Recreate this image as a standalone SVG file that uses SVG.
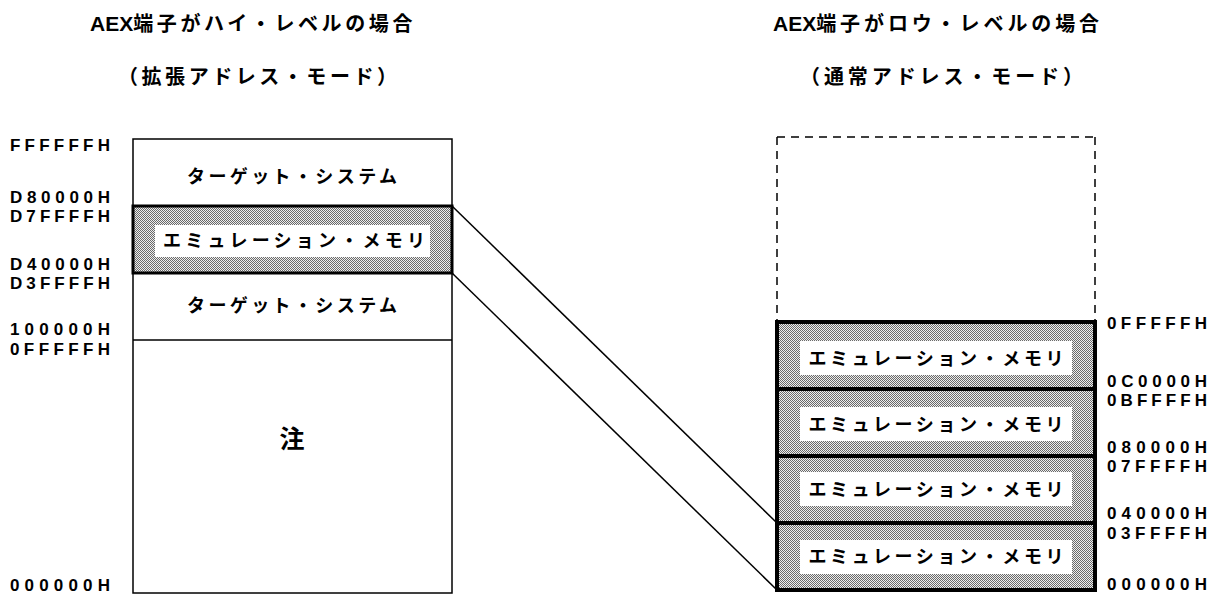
<svg xmlns="http://www.w3.org/2000/svg" width="1211" height="595" viewBox="0 0 1211 595">
<style>
.title{font-family:"Noto Sans CJK JP","Noto Sans",sans-serif;font-weight:bold;font-size:20px;fill:#000}
.latin{font-family:"Liberation Sans",Arial,sans-serif;font-weight:bold;font-size:21px}
.addr{font-family:"Liberation Sans",Arial,sans-serif;font-weight:bold;font-size:17px;fill:#000}
.lbl{font-family:"Noto Sans CJK JP","Noto Sans",sans-serif;font-weight:bold;font-size:18px;fill:#000;text-anchor:middle}
.note{font-size:25px}
.thin{fill:none;stroke:#000;stroke-width:1.5}
.emu{fill:url(#dots);stroke:#000}
.inner{fill:#fff;stroke:none}
</style>
<defs>
<pattern id="dots" width="2" height="2" patternUnits="userSpaceOnUse">
<rect width="2" height="2" fill="#eeeeee"/>
<rect width="1" height="1" fill="#6a6a6a"/>
<rect x="1" y="1" width="1" height="1" fill="#6a6a6a"/>
</pattern>
</defs>
<rect width="1211" height="595" fill="#fff"/>

<g id="titles">
<text class="title" x="90" y="31"><tspan class="latin">AEX</tspan><tspan letter-spacing="3.6">端子がハイ・レベルの場合</tspan></text>
<text class="title" x="118" y="84" textLength="279" lengthAdjust="spacing">（拡張アドレス・モード）</text>
<text class="title" x="773" y="31"><tspan class="latin">AEX</tspan><tspan letter-spacing="3.9">端子がロウ・レベルの場合</tspan></text>
<text class="title" x="800" y="84" textLength="283" lengthAdjust="spacing">（通常アドレス・モード）</text>
</g>

<g id="left-map">
<rect class="thin" x="133" y="139" width="319" height="454" fill="#fff"/>
<line class="thin" x1="133" y1="340" x2="452" y2="340"/>
</g>

<g id="left-target-top">
<text class="lbl" x="292" y="183" textLength="210" lengthAdjust="spacing">ターゲット・システム</text>
</g>

<g id="left-emulation">
<rect class="emu" x="133" y="206" width="319" height="67" stroke-width="3"/>
<rect class="inner" x="155" y="225" width="275" height="32"/>
<text class="lbl" x="294" y="247" textLength="262" lengthAdjust="spacing">エミュレーション・メモリ</text>
</g>

<g id="left-target-bottom">
<text class="lbl" x="292" y="312" textLength="210" lengthAdjust="spacing">ターゲット・システム</text>
</g>

<g id="left-note">
<text class="lbl note" x="292" y="448">注</text>
</g>

<g id="left-addresses">
<text class="addr" x="10" y="151" textLength="100" lengthAdjust="spacing">FFFFFFH</text>
<text class="addr" x="10" y="203" textLength="100" lengthAdjust="spacing">D80000H</text>
<text class="addr" x="10" y="222" textLength="100" lengthAdjust="spacing">D7FFFFH</text>
<text class="addr" x="10" y="270" textLength="100" lengthAdjust="spacing">D40000H</text>
<text class="addr" x="10" y="289" textLength="100" lengthAdjust="spacing">D3FFFFH</text>
<text class="addr" x="10" y="335" textLength="100" lengthAdjust="spacing">100000H</text>
<text class="addr" x="10" y="355" textLength="100" lengthAdjust="spacing">0FFFFFH</text>
<text class="addr" x="10" y="591" textLength="100" lengthAdjust="spacing">000000H</text>
</g>

<g id="right-unused">
<path d="M777 137 H1095 M777 137 V322 M1095 137 V322" fill="none" stroke="#000" stroke-width="1.5" stroke-dasharray="8 6"/>
</g>

<g id="right-emulation-3">
<rect class="emu" x="777" y="322" width="318" height="67" stroke-width="4"/>
<rect class="inner" x="800" y="341" width="272" height="34"/>
<text class="lbl" x="936" y="365" textLength="255" lengthAdjust="spacing">エミュレーション・メモリ</text>
</g>
<g id="right-emulation-2">
<rect class="emu" x="777" y="389" width="318" height="67" stroke-width="4"/>
<rect class="inner" x="800" y="407" width="272" height="34"/>
<text class="lbl" x="936" y="431" textLength="255" lengthAdjust="spacing">エミュレーション・メモリ</text>
</g>
<g id="right-emulation-1">
<rect class="emu" x="777" y="456" width="318" height="67" stroke-width="4"/>
<rect class="inner" x="800" y="472" width="272" height="34"/>
<text class="lbl" x="936" y="496" textLength="255" lengthAdjust="spacing">エミュレーション・メモリ</text>
</g>
<g id="right-emulation-0">
<rect class="emu" x="777" y="523" width="318" height="67" stroke-width="4"/>
<rect class="inner" x="800" y="540" width="272" height="34"/>
<text class="lbl" x="936" y="563" textLength="255" lengthAdjust="spacing">エミュレーション・メモリ</text>
</g>

<g id="right-addresses">
<text class="addr" x="1107" y="329" textLength="100" lengthAdjust="spacing">0FFFFFH</text>
<text class="addr" x="1107" y="387" textLength="100" lengthAdjust="spacing">0C0000H</text>
<text class="addr" x="1107" y="406" textLength="100" lengthAdjust="spacing">0BFFFFH</text>
<text class="addr" x="1107" y="453" textLength="100" lengthAdjust="spacing">080000H</text>
<text class="addr" x="1107" y="472" textLength="100" lengthAdjust="spacing">07FFFFH</text>
<text class="addr" x="1107" y="519" textLength="100" lengthAdjust="spacing">040000H</text>
<text class="addr" x="1107" y="539" textLength="100" lengthAdjust="spacing">03FFFFH</text>
<text class="addr" x="1107" y="590" textLength="100" lengthAdjust="spacing">000000H</text>
</g>

<g id="connectors">
<line class="thin" x1="452" y1="206" x2="777" y2="523"/>
<line class="thin" x1="452" y1="273" x2="777" y2="590"/>
</g>
</svg>
